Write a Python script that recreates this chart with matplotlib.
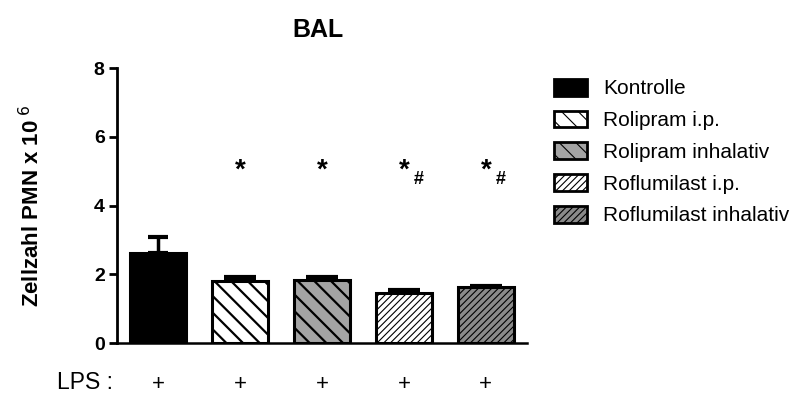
import matplotlib.pyplot as plt
from matplotlib.patches import Patch
import matplotlib.transforms as mtransforms

# data
groups = ["Kontrolle", "Rolipram i.p.", "Rolipram inhalativ",
          "Roflumilast i.p.", "Roflumilast inhalativ"]
means = [2.63, 1.80, 1.83, 1.45, 1.62]
sems = [0.45, 0.12, 0.09, 0.09, 0.05]
stars = ["", "*", "*", "*", "*"]
hashes = ["", "", "", "#", "#"]
lps = ["+", "+", "+", "+", "+"]

fills = ["black", "white", "#a4a4a4", "white", "#8a8a8a"]
hatches = [None, "\\\\", "\\\\", "/////", "/////"]
hatch_lw = [1.0, 1.6, 1.6, 0.8, 0.8]

plt.rcParams["font.family"] = ["Liberation Sans", "DejaVu Sans"]

fig = plt.figure(figsize=(7.97, 3.94), dpi=100)
ax = fig.add_axes([0.147, 0.1294, 0.514, 0.698])

x = list(range(len(groups)))
bars = []
for xi, m, f, h, lw in zip(x, means, fills, hatches, hatch_lw):
    plt.rcParams["hatch.linewidth"] = lw
    b = ax.bar(xi, m, width=0.69, color=f, edgecolor="black",
               linewidth=2.2, hatch=h, zorder=2)[0]
    if hasattr(b, "set_hatch_linewidth"):
        b.set_hatch_linewidth(lw)
    bars.append(b)

# first bar has narrower cap than the rest
ax.errorbar(x[:1], means[:1], yerr=[[0], sems[:1]], fmt="none", ecolor="black",
            elinewidth=2.5, capsize=7.5, capthick=3, zorder=1)
ax.errorbar(x[1:], means[1:], yerr=[[0] * 4, sems[1:]], fmt="none",
            ecolor="black", elinewidth=2.5, capsize=11.5, capthick=3, zorder=1)

for xi, s, hs in zip(x, stars, hashes):
    if s:
        ax.text(xi, 5.02, s, ha="center", va="center", fontsize=20,
                fontweight="bold")
    if hs:
        ax.text(xi + 0.18, 4.75, hs, ha="center", va="center", fontsize=13,
                fontweight="bold")

ax.set_xlim(-0.5, 4.5)
ax.set_ylim(0, 8)
ax.set_yticks([0, 2, 4, 6, 8])
ax.set_xticks([])
for lab in ax.get_yticklabels():
    lab.set_fontweight("bold")
ax.tick_params(axis="y", labelsize=14, width=2, length=6, pad=3)
ax.spines["top"].set_visible(False)
ax.spines["right"].set_visible(False)
ax.spines["left"].set_linewidth(2)
ax.spines["bottom"].set_linewidth(1.8)

ax.set_ylabel("Zellzahl PMN x 10$^{\\ 6}$", fontsize=16, fontweight="bold")
ax.yaxis.set_label_coords(-0.178, 0.5)
fig.text(0.399, 0.924, "BAL", ha="center", va="center", fontsize=18,
         fontweight="bold")

# LPS row
trans = mtransforms.blended_transform_factory(ax.transData, ax.transAxes)
for xi, p in zip(x, lps):
    ax.text(xi, -0.15, p, transform=trans, ha="center", va="center",
            fontsize=16)
fig.text(0.071, 0.028, "LPS :", ha="left", va="center", fontsize=16.5)

handles = []
for f, h, lw in zip(fills, hatches, hatch_lw):
    plt.rcParams["hatch.linewidth"] = lw
    p = Patch(facecolor=f, edgecolor="black", hatch=h, linewidth=2)
    if hasattr(p, "set_hatch_linewidth"):
        p.set_hatch_linewidth(lw)
    handles.append(p)
fig.legend(handles, groups, loc="upper left", bbox_to_anchor=(0.695, 0.80),
           frameon=False, fontsize=15, handlelength=1.6, handleheight=0.87,
           handletextpad=0.75, labelspacing=0.58, borderpad=0,
           borderaxespad=0)

fig.savefig("out.png", dpi=100)
